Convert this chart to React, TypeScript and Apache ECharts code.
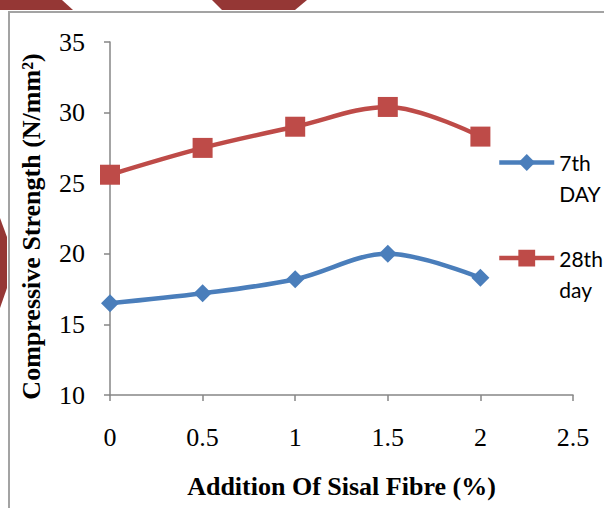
import React, { useEffect, useRef } from "react";
import * as echarts from "echarts";

const fibrePercent = [0, 0.5, 1, 1.5, 2];
const day7Values = [16.5, 17.2, 18.2, 20.0, 18.3];
const day28Values = [25.6, 27.5, 29.0, 30.4, 28.3];
const seriesNames = ["7th DAY", "28th day"];
const legendLabels: Record<string, string> = { "7th DAY": "\n7th\nDAY", "28th day": "\n28th\nday" };
const xTicks = { min: 0, max: 2.5, interval: 0.5 };
const yTicks = { min: 10, max: 35, interval: 5 };

const BLUE = "#4A7EBB";
const RED = "#BE4B48";
const DECOR = "#953735";
const SERIF = "'Liberation Serif', 'Times New Roman', serif";
const SANS = "Lato, 'Open Sans', sans-serif";

export default function App() {
  const ref = useRef<HTMLDivElement>(null);
  useEffect(() => {
    if (!ref.current) return;
    const chart = echarts.init(ref.current, null, { renderer: "svg" });
    const L = 31;
    chart.setOption({
      animation: false,
      backgroundColor: "#ffffff",
      grid: { left: 110, right: 31, top: 42, bottom: 113, containLabel: false },
      graphic: [
        { type: "rect", z: 0, shape: { x: 9, y: 12, width: 700, height: 600 }, style: { fill: "none", stroke: "#a3a3a3", lineWidth: 2 } },
        { type: "polygon", z: 1, shape: { points: [[0, 0], [62, 0], [73, 10], [0, 10]] }, style: { fill: DECOR } },
        { type: "polygon", z: 1, shape: { points: [[212, 0], [307, 0], [295, 10], [222, 10]] }, style: { fill: DECOR } },
        { type: "polygon", z: 1, shape: { points: [[0, 218], [7, 237], [7, 288], [0, 308]] }, style: { fill: DECOR } },
      ],
      legend: {
        orient: "vertical",
        left: 497,
        top: 116,
        padding: 0,
        itemGap: 2.6,
        itemWidth: 55,
        itemHeight: 21,
        lineStyle: { width: 4.5 },
        data: seriesNames,
        formatter: (name: string) => legendLabels[name] || name,
        textStyle: { fontFamily: SANS, fontSize: 21, color: "#000", lineHeight: L },
      },
      xAxis: {
        type: "value",
        min: xTicks.min,
        max: xTicks.max,
        interval: xTicks.interval,
        name: "Addition Of Sisal Fibre (%)",
        nameLocation: "middle",
        nameGap: 78,
        nameTextStyle: { fontFamily: SERIF, fontSize: 26, fontWeight: "bold", color: "#000" },
        axisLine: { show: true, lineStyle: { color: "#868686", width: 1.5 } },
        axisTick: { show: true, length: 6, lineStyle: { color: "#868686", width: 1.5 } },
        axisLabel: { fontFamily: SERIF, fontSize: 26, color: "#000", margin: 29 },
        splitLine: { show: false },
      },
      yAxis: {
        type: "value",
        min: yTicks.min,
        max: yTicks.max,
        interval: yTicks.interval,
        name: "Compressive Strength (N/mm²)",
        nameLocation: "middle",
        nameGap: 66,
        nameTextStyle: { fontFamily: SERIF, fontSize: 26, fontWeight: "bold", color: "#000", padding: [0, 16, 0, 0] },
        axisLine: { show: true, lineStyle: { color: "#868686", width: 1.5 } },
        axisTick: { show: true, length: 6, lineStyle: { color: "#868686", width: 1.5 } },
        axisLabel: { fontFamily: SERIF, fontSize: 26, color: "#000", margin: 25 },
        splitLine: { show: false },
      },
      series: [
        {
          name: seriesNames[0],
          type: "line",
          data: fibrePercent.map((x, i) => [x, day7Values[i]]),
          smooth: 0.35,
          symbol: "diamond",
          symbolSize: 18,
          lineStyle: { color: BLUE, width: 4.5 },
          itemStyle: { color: BLUE },
          z: 3,
        },
        {
          name: seriesNames[1],
          type: "line",
          data: fibrePercent.map((x, i) => [x, day28Values[i]]),
          smooth: 0.35,
          symbol: "rect",
          symbolSize: 20,
          lineStyle: { color: RED, width: 4.5 },
          itemStyle: { color: RED },
          z: 3,
        },
      ],
    });
    return () => chart.dispose();
  }, []);
  return <div ref={ref} style={{ position: "fixed", left: 0, top: 0, width: 604, height: 508 }} />;
}
